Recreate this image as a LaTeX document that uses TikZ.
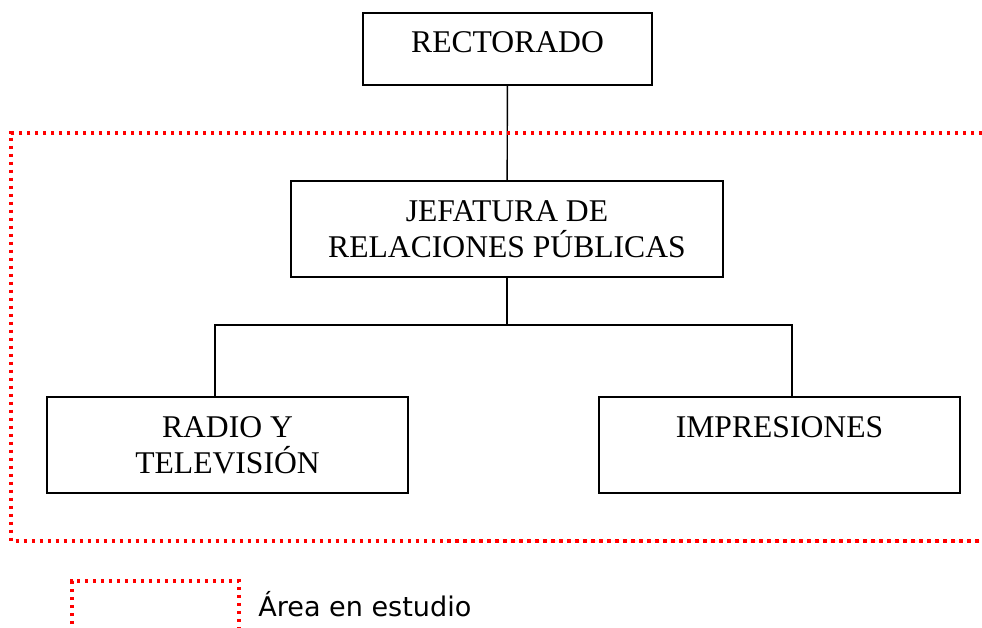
\documentclass[tikz,border=0pt]{standalone}
\usepackage{fontspec}
\setmainfont{Liberation Serif}
\newfontfamily\leyendafont{DejaVu Sans}
\begin{document}
\begin{tikzpicture}[x=0.02cm, y=-0.02cm,
    caja/.style={rectangle, draw, line width=0.8pt, align=center, font=\fontsize{18}{20.4}\selectfont},
    zona/.style={draw=red, line width=1.9pt, dash pattern=on 0.066cm off 0.094cm}]
    \clip (0,0) rectangle (982,627);
    % organigrama
    \node[caja, minimum width=5.78cm, minimum height=1.44cm, text depth=0.26cm] (rectorado) at (507.5,49) {RECTORADO};
    \node[caja, minimum width=8.64cm, minimum height=1.92cm] (jefatura) at (507,229) {JEFATURA DE\\RELACIONES PÚBLICAS};
    \node[caja, minimum width=7.22cm, minimum height=1.92cm] (radio) at (227.5,445) {RADIO Y\\TELEVISIÓN};
    \node[caja, minimum width=7.22cm, minimum height=1.92cm, text depth=0.7cm] (impresiones) at (779.5,445) {IMPRESIONES};
    \coordinate (bi) at (215,325);
    \coordinate (bd) at (792,325);
    \draw[line width=0.8pt] (rectorado) -- (jefatura);
    \draw[line width=0.8pt] (jefatura.south) -- (jefatura.south |- bi);
    \draw[line width=0.8pt] (radio.north -| bi) -- (bi) -- (bd) -- (impresiones.north -| bd);
    % area en estudio
    \draw[zona] (990,133) -- (11,133) -- (11,541) -- (990,541);
    \draw[zona] (72,640) -- (72,581) -- (239,581) -- (239,640);
    \node[anchor=base west, inner sep=0pt, font=\leyendafont\fontsize{15.4}{18}\selectfont] (leyenda) at (258,616) {Área en estudio};
\end{tikzpicture}
\end{document}
